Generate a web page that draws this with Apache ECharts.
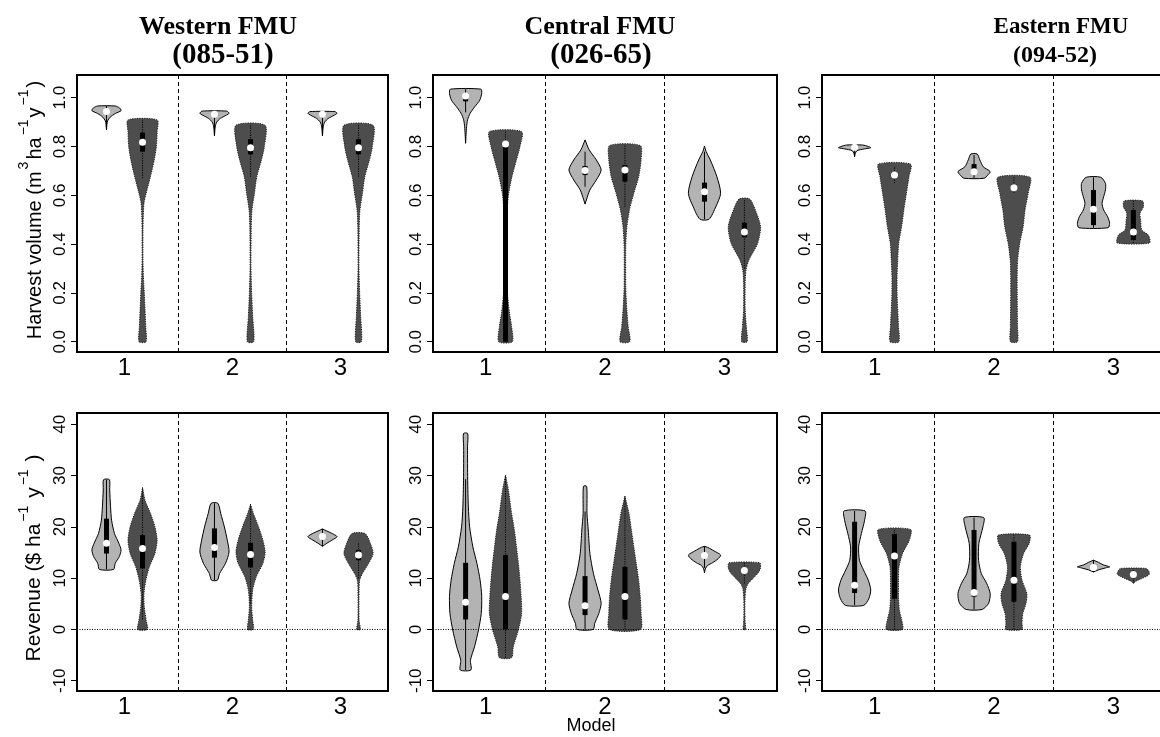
<!DOCTYPE html>
<html><head><meta charset="utf-8">
<script src="https://cdn.jsdelivr.net/npm/echarts@6/dist/echarts.min.js"></script>
<style>html,body{margin:0;padding:0;background:#fff}#c{width:1160px;height:737px}</style>
</head><body><div id="c"></div>
<script>
// ---------- DATA ----------
const panelTitles = ['Western FMU', 'Central FMU', 'Eastern FMU'];
const panelCodes = ['(085-51)', '(026-65)', '(094-52)'];
const modelLabels = ['1', '2', '3'];
const harvestTicks = [0, 0.2, 0.4, 0.6, 0.8, 1.0];
const revenueTicks = [-10, 0, 10, 20, 30, 40];

// Violin profiles: [value, relative density width]; order L1,D1,L2,D2,L3,D3
// Stats: [whisker low, Q1, median, Q3, whisker high]
const westHarvestProfiles = [
  [[0.868,0],[0.89,0.03],[0.905,0.08],[0.92,0.25],[0.935,0.6],[0.947,1.0],[0.958,0.9],[0.966,0.6]],
  [[0,0.24],[0.06,0.22],[0.13,0.17],[0.2,0.12],[0.266,0.06],[0.335,0.03],[0.45,0.03],[0.512,0.05],[0.568,0.1],[0.609,0.25],[0.676,0.54],[0.744,0.8],[0.8,0.95],[0.86,1.0],[0.909,1.0]],
  [[0.843,0],[0.86,0.02],[0.88,0.05],[0.9,0.15],[0.915,0.4],[0.928,0.8],[0.936,1.0],[0.945,0.85]],
  [[0,0.22],[0.102,0.15],[0.198,0.08],[0.307,0.03],[0.471,0.05],[0.54,0.1],[0.608,0.27],[0.676,0.43],[0.745,0.75],[0.8,0.95],[0.887,1.0]],
  [[0.843,0],[0.86,0.02],[0.88,0.05],[0.9,0.15],[0.915,0.4],[0.928,0.8],[0.936,1.0],[0.943,0.85]],
  [[0,0.2],[0.102,0.15],[0.198,0.08],[0.307,0.03],[0.471,0.05],[0.54,0.1],[0.608,0.27],[0.676,0.43],[0.745,0.75],[0.8,0.95],[0.887,1.0]]
];
const westHarvestStats = [
  [0.87,0.938,0.943,0.95,0.966],
  [0.67,0.779,0.817,0.857,0.909],
  [0.85,0.928,0.932,0.938,0.945],
  [0.676,0.768,0.795,0.83,0.887],
  [0.85,0.928,0.932,0.937,0.943],
  [0.676,0.768,0.795,0.83,0.887]
];
const centralHarvestProfiles = [
  [[0.813,0],[0.85,0.03],[0.881,0.06],[0.909,0.12],[0.936,0.28],[0.963,0.57],[0.99,0.88],[1.018,1.0],[1.035,0.95]],
  [[0,0.42],[0.062,0.38],[0.117,0.25],[0.2,0.12],[0.307,0.04],[0.47,0.05],[0.54,0.1],[0.608,0.2],[0.676,0.4],[0.745,0.68],[0.8,0.9],[0.861,1.0]],
  [[0.564,0],[0.581,0.08],[0.622,0.3],[0.663,0.7],[0.704,1.0],[0.745,0.7],[0.786,0.26],[0.827,0]],
  [[0,0.3],[0.062,0.2],[0.13,0.12],[0.225,0.05],[0.389,0.05],[0.471,0.12],[0.54,0.28],[0.608,0.55],[0.676,0.85],[0.745,1.0],[0.804,0.95]],
  [[0.502,0.28],[0.553,0.7],[0.608,1.0],[0.676,0.77],[0.745,0.36],[0.78,0.1],[0.802,0]],
  [[0,0.17],[0.062,0.12],[0.13,0.05],[0.239,0.05],[0.294,0.1],[0.335,0.28],[0.403,0.82],[0.471,1.0],[0.54,0.68],[0.585,0.33]]
];
const centralHarvestStats = [
  [0.94,0.985,1.007,1.012,1.035],
  [0,0,0.81,0.80,0.861],
  [0.635,0.683,0.702,0.72,0.779],
  [0.553,0.656,0.704,0.724,0.804],
  [0.502,0.574,0.615,0.652,0.779],
  [0.3,0.428,0.45,0.488,0.585]
];
const eastHarvestProfiles = [
  [[0.758,0],[0.77,0.03],[0.783,0.15],[0.79,0.6],[0.795,1.0],[0.8,0.85],[0.806,0.5]],
  [[0,0.27],[0.062,0.25],[0.13,0.2],[0.198,0.16],[0.267,0.16],[0.335,0.2],[0.403,0.26],[0.471,0.44],[0.54,0.58],[0.608,0.74],[0.676,0.9],[0.728,1.0]],
  [[0.67,0.63],[0.683,0.85],[0.697,1.0],[0.717,0.57],[0.745,0.36],[0.769,0.2]],
  [[0,0.22],[0.062,0.22],[0.198,0.2],[0.267,0.2],[0.335,0.23],[0.403,0.36],[0.471,0.57],[0.54,0.69],[0.608,0.88],[0.674,1.0]],
  [[0.467,0.9],[0.485,1.0],[0.512,0.88],[0.54,0.63],[0.567,0.53],[0.594,0.63],[0.622,0.74],[0.649,0.74],[0.674,0.45]],
  [[0.405,1.0],[0.437,0.93],[0.458,0.52],[0.499,0.45],[0.526,0.41],[0.553,0.62],[0.577,0.57]]
];
const eastHarvestStats = [
  [0.76,0.793,0.797,0.8,0.806],
  [0.65,0.674,0.683,0.695,0.72],
  [0.67,0.697,0.697,0.728,0.765],
  [0.61,0.624,0.631,0.645,0.674],
  [0.467,0.478,0.543,0.622,0.674],
  [0.405,0.417,0.45,0.54,0.577]
];
const westRevenueProfiles = [
  [[11.7,0.48],[12.9,0.6],[14.2,0.88],[15.5,1.0],[16.8,0.85],[18.7,0.55],[21.3,0.35],[23.9,0.28],[27.2,0.22],[29.2,0.2]],
  [[0,0.33],[1.8,0.25],[4.4,0.12],[7,0.1],[9.6,0.23],[12.2,0.47],[14.8,0.85],[17.4,1.0],[20,0.85],[22.6,0.55],[25.2,0.17],[27.7,0]],
  [[9.6,0.2],[10.9,0.35],[12.9,0.76],[15.1,1.0],[17.4,0.88],[20,0.68],[22.6,0.43],[24.6,0.23]],
  [[0,0.2],[1.8,0.15],[4.4,0.08],[7.7,0.15],[10.3,0.4],[12.9,0.85],[15.1,1.0],[17.4,0.85],[20,0.55],[22.6,0.2],[24.4,0]],
  [[16.2,0],[16.8,0.3],[17.4,0.65],[18.1,1.0],[18.8,0.6],[19.2,0.3],[19.6,0]],
  [[0,0.12],[1.8,0.04],[8,0.04],[9.6,0.08],[10.9,0.27],[12.9,0.7],[14.8,1.0],[16.8,0.81],[18.7,0.45]]
];
const westRevenueStats = [
  [11.7,14.8,16.8,21.6,29.2],
  [2,11.9,15.8,18.4,27.7],
  [9.6,14,16,19.7,24.6],
  [5,12.1,14.6,16.9,24.4],
  [16.2,17.8,18.1,18.4,19.6],
  [10,13.5,14.5,15.5,16.8]
];
const centralRevenueProfiles = [
  [[-7.9,0.33],[-6,0.3],[-3.4,0.55],[-0.1,0.8],[3.1,0.97],[6.4,1.0],[9.6,0.9],[12.9,0.7],[16.1,0.45],[20,0.25],[23.9,0.17],[29.1,0.13],[35.6,0.12],[38.2,0.13]],
  [[-5.5,0.38],[-3.4,0.48],[-0.1,0.8],[3.1,1.0],[6.4,0.97],[9.6,0.9],[12.9,0.8],[16.1,0.68],[19.4,0.55],[22.6,0.38],[27.2,0.18],[30.1,0]],
  [[0,0.5],[1.2,0.6],[3.1,0.85],[5.1,1.0],[7.7,0.8],[10.9,0.52],[14.8,0.3],[19.4,0.2],[22.6,0.12],[27.9,0.1]],
  [[0,0.97],[3.1,1.0],[6.4,0.95],[9.6,0.85],[12.9,0.7],[16.1,0.55],[19.4,0.4],[22.6,0.25],[26,0]],
  [[11,0],[11.8,0.05],[12.5,0.2],[13,0.5],[13.8,0.85],[14.5,1.0],[15.3,0.6],[16,0.2],[16.2,0]],
  [[0,0.08],[1,0.06],[2,0.04],[4,0.03],[6,0.04],[8,0.1],[9,0.25],[10,0.55],[11,0.85],[12,1.0],[13,0.95]]
];
const centralRevenueStats = [
  [-7.9,1.95,5.3,13,29.3],
  [-5.5,0,6.4,14.5,30],
  [0,2.8,4.6,10.4,23],
  [0,1.95,6.4,12.2,26],
  [12,14,14.4,14.8,16.2],
  [9,11,11.5,12,13]
];
const eastRevenueProfiles = [
  [[4.7,0.57],[6,0.88],[7.7,1.0],[9.6,0.85],[11.6,0.55],[13.5,0.3],[16.1,0.25],[18.7,0.42],[21.3,0.62],[23.1,0.65]],
  [[0,0.5],[1.8,0.45],[3.8,0.3],[6.4,0.25],[9.6,0.25],[12.2,0.28],[14.8,0.5],[17.4,0.92],[19.5,1.0]],
  [[3.9,0.5],[5.1,0.9],[7,1.0],[9,0.78],[10.9,0.45],[13.5,0.28],[16.8,0.3],[20,0.55],[21.8,0.6]],
  [[0,0.5],[1.2,0.5],[3.1,0.55],[5.1,0.75],[7,0.8],[9.6,0.5],[12.2,0.4],[14.8,0.6],[16.8,0.95],[18.4,0.97]],
  [[11.2,0],[11.6,0.3],[12,0.75],[12.2,1.0],[12.6,0.6],[13.1,0.3],[13.5,0]],
  [[9,0],[9.4,0.15],[9.9,0.5],[10.4,0.85],[10.8,1.0],[11.4,0.95],[11.9,0.8]]
];
const eastRevenueStats = [
  [4.7,7.1,8.6,21,23.1],
  [0,6,14.3,18.6,19.5],
  [3.9,6.4,7.2,19.4,21.8],
  [0,5.4,9.6,17.1,18.4],
  [11.2,12,12.1,12.3,13.5],
  [9,10.5,10.7,11,11.9]
];

// ---------- LAYOUT / STYLE ----------
const SANS = '"Liberation Sans", Arial, sans-serif';
const SERIF = '"Liberation Serif", "Times New Roman", serif';
const LIGHT = '#b3b3b3', DARK = '#4d4d4d';
const HW = 0.135, OFF = [-0.167, 0.167];
const colLeft = [77, 433, 822], colWidth = [311, 344, 344];
const rowTop = [75, 413], rowHeight = [277, 278];
const yRanges = [[-0.042, 1.093], [-12.0, 42.2]];

const panels = [
  [westHarvestProfiles, westHarvestStats], [centralHarvestProfiles, centralHarvestStats], [eastHarvestProfiles, eastHarvestStats],
  [westRevenueProfiles, westRevenueStats], [centralRevenueProfiles, centralRevenueStats], [eastRevenueProfiles, eastRevenueStats]
];

const grids = [], xAxes = [], yAxes = [], series = [];
panels.forEach(([profiles, stats], k) => {
  const r = Math.floor(k / 3), c = k % 3;
  grids.push({left: colLeft[c], top: rowTop[r], width: colWidth[c], height: rowHeight[r],
    outerBoundsMode: 'none', containLabel: false,
    show: true, borderColor: '#000', borderWidth: 2, backgroundColor: 'rgba(0,0,0,0)'});
  xAxes.push({gridIndex: k, type: 'value', min: 0.56, max: 3.44,
    axisLine: {show: false}, splitLine: {show: false}, axisTick: {show: false},
    axisLabel: {customValues: [1, 2, 3], formatter: v => modelLabels[Math.round(v) - 1],
      fontSize: 24, color: '#000', fontFamily: SANS, margin: 4}});
  const ticks = r === 0 ? harvestTicks : revenueTicks;
  yAxes.push({gridIndex: k, type: 'value', min: yRanges[r][0], max: yRanges[r][1],
    axisLine: {show: false}, splitLine: {show: false},
    axisTick: {show: true, customValues: ticks, length: 6, lineStyle: {color: '#000', width: 1}},
    axisLabel: {customValues: ticks, rotate: 90, fontSize: 17, color: '#000', fontFamily: SANS, margin: 8,
      formatter: v => r === 0 ? v.toFixed(1) : String(Math.round(v))}});
  const markData = [{xAxis: 1.5}, {xAxis: 2.5}];
  series.push({
    type: 'custom', xAxisIndex: k, yAxisIndex: k, clip: false,
    data: profiles.map((p, i) => [Math.floor(i / 2) + 1 + OFF[i % 2], stats[i][2], i]),
    encode: {x: 0, y: 1},
    renderItem: (params, api) => {
      const i = api.value(2), x = api.value(0);
      const prof = profiles[i], st = stats[i], dark = i % 2 === 1;
      const left = prof.map(([y, w]) => api.coord([x - w * HW, y]));
      const right = prof.slice().reverse().map(([y, w]) => api.coord([x + w * HW, y]));
      const pts = left.concat(right);
      const lo = api.coord([x, st[0]]), q1 = api.coord([x, st[1]]), md = api.coord([x, st[2]]),
            q3 = api.coord([x, st[3]]), hi = api.coord([x, st[4]]);
      return {type: 'group', children: [
        {type: 'polygon', shape: {points: pts, smooth: 0.25},
          style: {fill: dark ? DARK : LIGHT, stroke: dark ? '#1a1a1a' : '#000', lineWidth: 1, lineDash: dark ? [1.2, 1.2] : null}},
        {type: 'line', shape: {x1: lo[0], y1: lo[1], x2: hi[0], y2: hi[1]},
          style: {stroke: '#000', lineWidth: 1, lineDash: dark ? [1.2, 1.2] : null}},
        {type: 'rect', shape: {x: q1[0] - 2.5, y: Math.min(q1[1], q3[1]), width: 5, height: Math.max(1, Math.abs(q1[1] - q3[1]))},
          style: {fill: '#000'}},
        {type: 'circle', shape: {cx: md[0], cy: md[1], r: 3.5}, style: {fill: '#fff'}}
      ]};
    },
    markLine: {silent: true, symbol: 'none', label: {show: false}, animation: false,
      data: r === 1 ? markData.concat([{yAxis: 0, lineStyle: {type: [1, 1.5], color: '#000', width: 1}}]) : markData,
      lineStyle: {type: [4, 3], color: '#000', width: 1}}
  });
});

const supStyle = {fontSize: 14, fontFamily: SANS, fill: '#000', verticalAlign: 'top', lineHeight: 28, padding: [0, 2, 0, 2]};
const mainStyle = {fontSize: 20, fontFamily: SANS, fill: '#000', lineHeight: 28, verticalAlign: 'bottom'};
const mainStyleR = {fontSize: 21, fontFamily: SANS, fill: '#000', lineHeight: 28, verticalAlign: 'bottom'};
const graphic = [
  {type: 'text', x: 218, y: 27, style: {text: panelTitles[0], font: 'bold 26px ' + SERIF, fill: '#000', textAlign: 'center', textVerticalAlign: 'middle'}},
  {type: 'text', x: 223, y: 56, style: {text: panelCodes[0], font: 'bold 29px ' + SERIF, fill: '#000', textAlign: 'center', textVerticalAlign: 'middle'}},
  {type: 'text', x: 600, y: 27, style: {text: panelTitles[1], font: 'bold 26px ' + SERIF, fill: '#000', textAlign: 'center', textVerticalAlign: 'middle'}},
  {type: 'text', x: 601, y: 56, style: {text: panelCodes[1], font: 'bold 29px ' + SERIF, fill: '#000', textAlign: 'center', textVerticalAlign: 'middle'}},
  {type: 'text', x: 1061, y: 27, style: {text: panelTitles[2], font: 'bold 23px ' + SERIF, fill: '#000', textAlign: 'center', textVerticalAlign: 'middle'}},
  {type: 'text', x: 1055, y: 56, style: {text: panelCodes[2], font: 'bold 24px ' + SERIF, fill: '#000', textAlign: 'center', textVerticalAlign: 'middle'}},
  {type: 'text', x: 591, y: 726, style: {text: 'Model', font: '18px ' + SANS, fill: '#000', textAlign: 'center', textVerticalAlign: 'middle'}},
  {type: 'text', x: 31, y: 210, rotation: Math.PI / 2, style: {
    text: '{a|Harvest volume (m}{s|3}{a|ha}{s|\u22121}{a|y}{s|\u22121}{a|)}',
    rich: {a: mainStyle, s: supStyle}, textAlign: 'center', textVerticalAlign: 'middle'}},
  {type: 'text', x: 31, y: 558, rotation: Math.PI / 2, style: {
    text: '{a|Revenue ($ ha}{s|\u22121}{a| y}{s|\u22121}{a| )}',
    rich: {a: mainStyleR, s: supStyle}, textAlign: 'center', textVerticalAlign: 'middle'}}
];

const chart = echarts.init(document.getElementById('c'), null, {renderer: 'canvas'});
chart.setOption({animation: false, grid: grids, xAxis: xAxes, yAxis: yAxes, series: series, graphic: graphic});
</script></body></html>
